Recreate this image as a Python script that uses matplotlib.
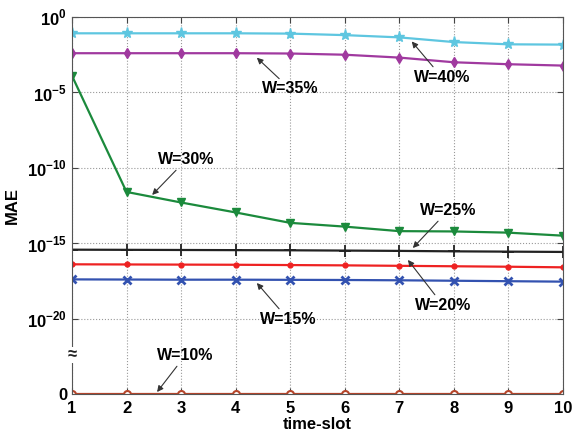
import numpy as np
import matplotlib
matplotlib.use('Agg')
import matplotlib.pyplot as plt

plt.rcParams['font.family'] = ['Liberation Sans', 'DejaVu Sans']
plt.rcParams['font.weight'] = 'bold'
plt.rcParams['mathtext.fontset'] = 'custom'
plt.rcParams['mathtext.rm'] = 'Liberation Sans:bold'
plt.rcParams['mathtext.bf'] = 'Liberation Sans:bold'

# dados (expoentes log10 do MAE)
slots = np.arange(1, 11)
exp_40 = [-1.08, -1.08, -1.08, -1.08, -1.10, -1.20, -1.35, -1.66, -1.81, -1.83]
exp_35 = [-2.40, -2.40, -2.40, -2.40, -2.42, -2.50, -2.69, -3.00, -3.13, -3.22]
exp_30 = [-3.90, -11.60, -12.30, -12.96, -13.65, -13.90, -14.20, -14.22, -14.30, -14.50]
exp_25 = [-15.43, -15.44, -15.45, -15.46, -15.47, -15.49, -15.51, -15.54, -15.56, -15.58]
exp_20 = [-16.40, -16.41, -16.42, -16.43, -16.45, -16.47, -16.50, -16.53, -16.56, -16.60]
exp_15 = [-17.40, -17.41, -17.42, -17.42, -17.43, -17.44, -17.46, -17.49, -17.52, -17.55]
mae_10 = np.zeros(10)  # W=10% -> MAE = 0

zero_pos = 1e-25   # onde o "0" fica no eixo quebrado
break_pos = 10 ** -22.4

series = [
    ('W=40%', 10.0 ** np.array(exp_40), dict(color='#5ec6e0', marker='*', ms=8)),
    ('W=35%', 10.0 ** np.array(exp_35), dict(color='#a0399f', marker='d', ms=5)),
    ('W=30%', 10.0 ** np.array(exp_30), dict(color='#1b8a3c', marker='v', ms=6)),
    ('W=25%', 10.0 ** np.array(exp_25), dict(color='#222222', marker='+', ms=9, mew=1.3)),
    ('W=20%', 10.0 ** np.array(exp_20), dict(color='#ee2222', marker='.', ms=7)),
    ('W=15%', 10.0 ** np.array(exp_15), dict(color='#3352b0', marker='x', ms=6, mew=2)),
    ('W=10%', np.where(mae_10 == 0, zero_pos, mae_10), dict(color='#b5452a', marker='o', ms=5,
                                                          mfc='white', mew=1.5)),
]

# posicao dos rotulos (x, expoente) e ponta da seta (x, expoente)
anotacoes = {
    'W=40%': ((7.78, -3.98), (7.23, -1.62)),
    'W=35%': ((5.00, -4.77), (4.39, -2.70)),
    'W=30%': ((3.09, -9.48), (2.47, -11.80)),
    'W=25%': ((7.89, -12.86), (7.25, -15.32)),
    'W=20%': ((7.80, -19.10), (7.16, -16.11)),
    'W=15%': ((4.96, -20.03), (4.39, -17.64)),
    'W=10%': ((3.07, -22.48), (2.56, -24.87)),
}

fig = plt.figure(figsize=(5.82, 4.32), dpi=100)
ax = fig.add_axes([0.1237, 0.088, 0.967 - 0.1237, 0.9606 - 0.088])
ax.set_yscale('log')

for nome, vals, estilo in series:
    ax.plot(slots, vals, lw=1.6, **estilo)

for nome, (txt, ponta) in anotacoes.items():
    ax.annotate(nome, xy=(ponta[0], 10 ** ponta[1]), xytext=(txt[0], 10 ** txt[1]),
                ha='center', va='center', fontsize=11.5, fontweight='bold',
                arrowprops=dict(arrowstyle='-|>', color='#333333', lw=0.8,
                                mutation_scale=9, shrinkA=0, shrinkB=0))

ax.set_xlim(1, 10)
ax.set_ylim(zero_pos, 1)
ax.set_xticks(slots)
yt = [1e0, 1e-5, 1e-10, 1e-15, 1e-20, zero_pos]
ax.set_yticks(yt)
ax.set_yticklabels([r'$10^{0}$', r'$10^{-5}$', r'$10^{-10}$', r'$10^{-15}$', r'$10^{-20}$', '0'])
ax.minorticks_off()
ax.tick_params(direction='in', top=True, right=True, labelsize=12, length=4, color='#444444')
ax.tick_params(axis='x', pad=5)
ax.grid(True, ls=':', color='#999999', lw=0.8)
ult = ax.yaxis.get_major_ticks()[-1]
ult.tick1line.set_visible(False)
ult.tick2line.set_visible(False)
ult.gridline.set_visible(False)
for s in ax.spines.values():
    s.set_color('#555555')

# marca de quebra no eixo y
ax.text(0, break_pos, '≈', transform=ax.get_yaxis_transform(), ha='center', va='center',
        fontsize=12, fontweight='bold', color='#222222',
        bbox=dict(facecolor='white', edgecolor='none', pad=0.5))

ax.set_xlabel('time-slot', fontsize=12, fontweight='bold', labelpad=1)
ax.set_ylabel('MAE', fontsize=12, fontweight='bold')
ax.yaxis.set_label_coords(-0.106, 0.5)

fig.savefig('out.png', dpi=100)
